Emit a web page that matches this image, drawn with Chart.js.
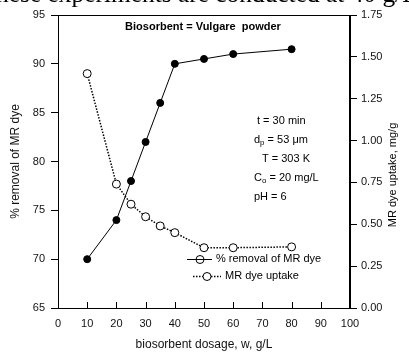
<!DOCTYPE html>
<html lang="en">
  <head>
    <meta charset="UTF-8" />
    <title>MR dye biosorption</title>
    <script src="https://cdn.jsdelivr.net/npm/chart.js@4.4.1/dist/chart.umd.min.js"></script>
    <style>
      html, body { margin: 0; padding: 0; background: #fff; overflow: hidden; }
      #wrap { position: relative; width: 409px; height: 354px; overflow: hidden; }
      #pageText {
        position: absolute;
        left: -11px;
        top: -19px;
        font-family: "Liberation Serif", "DejaVu Serif", serif;
        font-size: 25.4px;
        line-height: 25.4px;
        white-space: nowrap;
        color: #000;
      }
    </style>
  </head>
  <body>
    <div id="wrap">
      <canvas id="chart" width="409" height="354"></canvas>
      <div id="pageText">these experiments are conducted at 40 g/L</div>
    </div>
    <script>
      // values
      const dosage = [10, 20, 25, 30, 35, 40, 50, 60, 80];
      const removal = [70, 74, 78, 82, 86, 90, 90.5, 91, 91.5];
      const uptake = [1.4, 0.74, 0.62, 0.545, 0.49, 0.45, 0.36, 0.36, 0.365];

      const xTicks = [0, 10, 20, 30, 40, 50, 60, 70, 80, 90, 100];
      const leftTicks = [65, 70, 75, 80, 85, 90, 95];
      const rightTicks = [0, 0.25, 0.5, 0.75, 1.0, 1.25, 1.5, 1.75];

      const FONT = "'Liberation Sans', Arial, sans-serif";

      const notes = [
        { x: 257, y: 121, parts: [["t = 30 min", ""]] },
        { x: 254, y: 140, parts: [["d", ""], ["p", "sub"], [" = 53 \u03bcm", ""]] },
        { x: 262, y: 159, parts: [["T = 303 K", ""]] },
        { x: 254, y: 178, parts: [["C", ""], ["o", "sub"], [" = 20 mg/L", ""]] },
        { x: 254, y: 197, parts: [["pH = 6", ""]] },
      ];

      const extras = {
        id: "extras",
        beforeDatasetsDraw(chart) {
          const { ctx, chartArea: a, scales } = chart;
          ctx.save();
          ctx.strokeStyle = "#000";
          ctx.lineWidth = 1;
          ctx.strokeRect(a.left + 0.5, a.top + 0.5, a.right - a.left - 1, a.bottom - a.top);
          // inward ticks on x axis
          ctx.beginPath();
          scales.x.ticks.forEach((t) => {
            const px = Math.round(scales.x.getPixelForValue(t.value)) + 0.5;
            ctx.moveTo(px, a.bottom);
            ctx.lineTo(px, a.bottom - 6);
          });
          ctx.stroke();
          ctx.restore();
        },
        afterDraw(chart) {
          const { ctx } = chart;
          ctx.save();
          ctx.fillStyle = "#000";
          ctx.textBaseline = "middle";

          ctx.font = "bold 11px " + FONT;
          ctx.textAlign = "center";
          ctx.fillText("Biosorbent = Vulgare  powder", 203, 27);

          ctx.textAlign = "left";
          notes.forEach((n) => {
            let x = n.x;
            n.parts.forEach(([txt, kind]) => {
              if (kind === "sub") {
                ctx.font = "8px " + FONT;
                ctx.fillText(txt, x, n.y + 3);
              } else {
                ctx.font = "11px " + FONT;
                ctx.fillText(txt, x, n.y);
              }
              x += ctx.measureText(txt).width;
            });
          });

          // legend
          const rows = [
            { ds: chart.data.datasets[0], x1: 187, x2: 212, cx: 200, y: 259, tx: 216, label: "% removal of MR dye", fill: false },
            { ds: chart.data.datasets[1], x1: 193, x2: 221, cx: 207, y: 276, tx: 225, label: "MR dye uptake", fill: true },
          ];
          rows.forEach((r) => {
            ctx.strokeStyle = "#000";
            ctx.lineWidth = r.ds.borderWidth;
            ctx.setLineDash(r.ds.borderDash || []);
            ctx.beginPath();
            ctx.moveTo(r.x1, r.y + 0.5);
            ctx.lineTo(r.x2, r.y + 0.5);
            ctx.stroke();
            ctx.setLineDash([]);
            ctx.lineWidth = 1;
            ctx.beginPath();
            ctx.arc(r.cx, r.y + 0.5, 4, 0, Math.PI * 2);
            if (r.fill) {
              ctx.fillStyle = "#fff";
              ctx.fill();
            }
            ctx.stroke();
            ctx.fillStyle = "#000";
            ctx.font = "11px " + FONT;
            ctx.fillText(r.label, r.tx, r.y);
          });

          // right axis title, reading bottom to top
          ctx.save();
          ctx.translate(393, 175);
          ctx.rotate(-Math.PI / 2);
          ctx.textAlign = "center";
          ctx.font = "11px " + FONT;
          ctx.fillText("MR dye uptake, mg/g", 0, 0);
          ctx.restore();

          ctx.restore();
        },
      };

      const ctx = document.getElementById("chart").getContext("2d");
      const chart = new Chart(ctx, {
        type: "line",
        data: {
          datasets: [
            {
              label: "% removal of MR dye",
              data: dosage.map((d, i) => ({ x: d, y: removal[i] })),
              yAxisID: "y",
              borderColor: "#000",
              borderWidth: 1,
              pointRadius: 3.5,
              pointBackgroundColor: "#000",
              pointBorderColor: "#000",
              pointBorderWidth: 1,
              tension: 0,
            },
            {
              label: "MR dye uptake",
              data: dosage.map((d, i) => ({ x: d, y: uptake[i] })),
              yAxisID: "y1",
              borderColor: "#000",
              borderWidth: 1.5,
              borderDash: [1.5, 1.5],
              pointRadius: 4,
              pointBackgroundColor: "#fff",
              pointBorderColor: "#000",
              pointBorderWidth: 1,
              tension: 0,
            },
          ],
        },
        options: {
          responsive: false,
          animation: false,
          events: [],
          layout: { padding: { top: 15, left: 0, right: 0, bottom: 0 } },
          plugins: {
            legend: { display: false },
            tooltip: { enabled: false },
          },
          scales: {
            x: {
              type: "linear",
              min: 0,
              max: 100,
              afterFit: (s) => { s.height = 46; },
              afterBuildTicks: (s) => { s.ticks = xTicks.map((v) => ({ value: v })); },
              grid: { drawOnChartArea: false, drawTicks: false },
              border: { display: true, color: "#000", width: 1 },
              ticks: { padding: 9, color: "#111", font: { family: FONT, size: 11 }, maxRotation: 0 },
              title: {
                display: true,
                text: "biosorbent dosage, w, g/L",
                color: "#111",
                font: { family: FONT, size: 12 },
                padding: { top: 0, bottom: 2 },
              },
            },
            y: {
              position: "left",
              min: 65,
              max: 95,
              afterFit: (s) => { s.width = 58; },
              afterBuildTicks: (s) => { s.ticks = leftTicks.map((v) => ({ value: v })); },
              grid: { drawOnChartArea: false, drawTicks: true, tickLength: 7, tickColor: "#000" },
              border: { display: true, color: "#000", width: 1 },
              ticks: { padding: 6, color: "#111", font: { family: FONT, size: 11 } },
              title: {
                display: true,
                text: "% removal of MR dye",
                color: "#111",
                font: { family: FONT, size: 12 },
                padding: { top: 8, bottom: 0 },
              },
            },
            y1: {
              position: "right",
              min: 0,
              max: 1.75,
              afterFit: (s) => { s.width = 59; },
              afterBuildTicks: (s) => { s.ticks = rightTicks.map((v) => ({ value: v })); },
              grid: { drawOnChartArea: false, drawTicks: true, tickLength: 7, tickColor: "#000" },
              border: { display: true, color: "#000", width: 1 },
              ticks: {
                padding: 4,
                color: "#111",
                font: { family: FONT, size: 11 },
                callback: (v) => Number(v).toFixed(2),
              },
            },
          },
        },
        plugins: [extras],
      });
    </script>
  </body>
</html>
